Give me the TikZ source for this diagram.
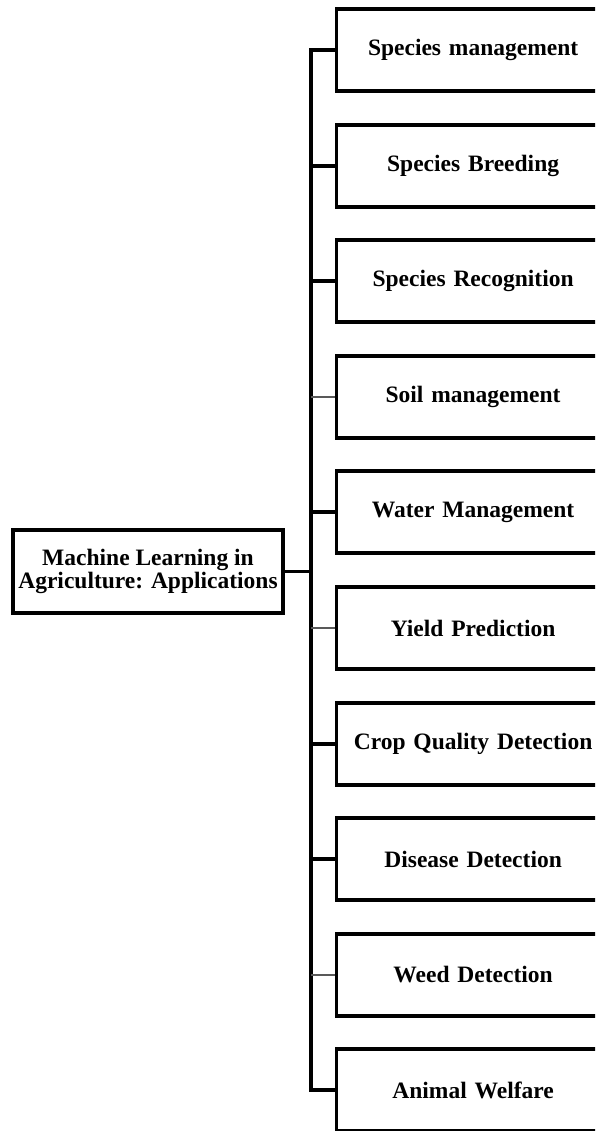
\documentclass[tikz,border=0pt]{standalone}
\usepackage{fontspec}
\setmainfont{Liberation Serif}
\usetikzlibrary{positioning,calc}

\begin{document}
\begin{tikzpicture}[
      x=1pt, y=-1pt,
      aplic/.style={draw=black, line width=3.2pt, fill=white, anchor=west,
                    minimum width=290pt, minimum height=82pt, inner sep=0pt,
                    text width=270pt, align=center,
                    font=\fontsize{23.5}{26}\selectfont\bfseries},
      raiz/.style={draw=black, line width=3.2pt, fill=white,
                   minimum width=270pt, minimum height=83pt, inner sep=2pt,
                   align=center, font=\fontsize{23.5}{23}\selectfont\bfseries},
      ramo/.style={line width=3.2pt, black},
      ramofino/.style={line width=2.2pt, black!65}
  ]
      \clip (0,0) rectangle (595,1131);
      \fill[white] (0,0) rectangle (595,1131);

      % Raiz
      \node[raiz] (main) at (148,571.5) {Machine Learning in\\Agriculture: Applications};

      % Aplicacoes
      \node[aplic] (spmgmt)  at (335,50)   {\hspace*{-17pt}Species management};
      \node[aplic] (spbreed) at (335,166)  {\hspace*{-17pt}Species Breeding};
      \node[aplic] (sprecog) at (335,281)  {\hspace*{-17pt}Species Recognition};
      \node[aplic] (soil)    at (335,397)  {\hspace*{-17pt}Soil management};
      \node[aplic] (water)   at (335,512)  {\hspace*{-17pt}Water Management};
      \node[aplic] (yield)   at (335,628)  {\hspace*{-17pt}Yield Prediction};
      \node[aplic] (cropq)   at (335,744)  {\hspace*{-17pt}Crop Quality Detection};
      \node[aplic] (disease) at (335,859)  {\hspace*{-17pt}Disease Detection};
      \node[aplic] (weed)    at (335,975)  {\hspace*{-17pt}Weed Detection};
      \node[aplic] (animal)  at (335,1090) {\hspace*{-17pt}Animal Welfare};

      % Tronco
      \coordinate (trk) at (311,0);
      \draw[ramo, line cap=rect] (spmgmt.west -| trk) -- (animal.west -| trk);
      \draw[ramo] (main.east) -- (main.east -| trk);

      % Ramos
      \draw[ramo]     (spmgmt.west -| trk)  -- (spmgmt.west);
      \draw[ramo]     (spbreed.west -| trk) -- (spbreed.west);
      \draw[ramo]     (sprecog.west -| trk) -- (sprecog.west);
      \draw[ramofino] (soil.west -| trk)    -- (soil.west);
      \draw[ramo]     (water.west -| trk)   -- (water.west);
      \draw[ramofino] (yield.west -| trk)   -- (yield.west);
      \draw[ramo]     (cropq.west -| trk)   -- (cropq.west);
      \draw[ramo]     (disease.west -| trk) -- (disease.west);
      \draw[ramofino] (weed.west -| trk)    -- (weed.west);
      \draw[ramo]     (animal.west -| trk)  -- (animal.west);
  \end{tikzpicture}
\end{document}
